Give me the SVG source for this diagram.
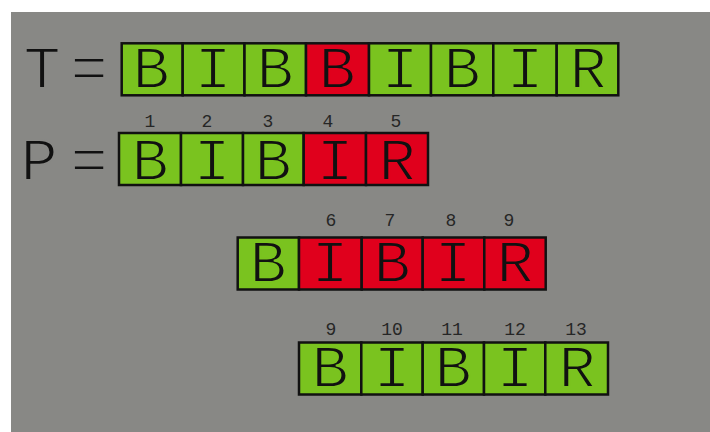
<svg xmlns="http://www.w3.org/2000/svg" width="710" height="432" viewBox="0 0 710 432">
<style>
.g{fill:#7ac31f;stroke:#111;stroke-width:2.5}
.r{fill:#e0001c;stroke:#111;stroke-width:2.5}
.L{font-family:"Liberation Mono","Courier New",monospace;font-size:62px;fill:#111;text-anchor:middle;stroke-width:1.8px}
.Lg{stroke:#7ac31f}
.Lr{stroke:#e0001c}
.Lb{stroke:#888885}
.n{font-family:"Liberation Mono","Courier New",monospace;font-size:18px;fill:#262626;text-anchor:middle}
</style>
<rect x="0" y="0" width="710" height="432" fill="#ffffff"/>
<rect x="11" y="12" width="699" height="420" fill="#888885"/>
<g id="labelT"><text class="L Lb" x="42" y="87.5">T</text><text class="L Lb" x="89" y="87.5">=</text></g>
<g id="labelP"><text class="L Lb" x="39" y="180">P</text><text class="L Lb" x="89" y="180">=</text></g>
<g id="rowT">
<rect class="g" x="121.7" y="43.3" width="61" height="52"/>
<rect class="g" x="182.7" y="43.3" width="61.8" height="52"/>
<rect class="g" x="244.5" y="43.3" width="61.5" height="52"/>
<rect class="r" x="306" y="43.3" width="63" height="52"/>
<rect class="g" x="369" y="43.3" width="62" height="52"/>
<rect class="g" x="431" y="43.3" width="62.3" height="52"/>
<rect class="g" x="493.3" y="43.3" width="63.4" height="52"/>
<rect class="g" x="556.7" y="43.3" width="61.6" height="52"/>
<text class="L Lg" x="151" y="87.5">B</text>
<text class="L Lg" x="213" y="87.5">I</text>
<text class="L Lg" x="275" y="87.5">B</text>
<text class="L Lr" x="337" y="87.5">B</text>
<text class="L Lg" x="400" y="87.5">I</text>
<text class="L Lg" x="462" y="87.5">B</text>
<text class="L Lg" x="525" y="87.5">I</text>
<text class="L Lg" x="588" y="87.5">R</text>
</g>
<g id="rowP">
<rect class="g" x="119" y="133" width="62" height="52"/>
<rect class="g" x="181" y="133" width="62" height="52"/>
<rect class="g" x="243" y="133" width="60.7" height="52"/>
<rect class="r" x="303.7" y="133" width="62.3" height="52"/>
<rect class="r" x="366" y="133" width="62" height="52"/>
<text class="L Lg" x="150" y="180">B</text>
<text class="L Lg" x="212" y="180">I</text>
<text class="L Lg" x="273" y="180">B</text>
<text class="L Lr" x="335" y="180">I</text>
<text class="L Lr" x="397" y="180">R</text>
<text class="n" x="150" y="127">1</text>
<text class="n" x="207" y="127">2</text>
<text class="n" x="268" y="127">3</text>
<text class="n" x="328" y="127">4</text>
<text class="n" x="396" y="127">5</text>
</g>
<g id="row3">
<rect class="g" x="237.7" y="237.5" width="61.3" height="52"/>
<rect class="r" x="299" y="237.5" width="62.7" height="52"/>
<rect class="r" x="361.7" y="237.5" width="61" height="52"/>
<rect class="r" x="422.7" y="237.5" width="61.6" height="52"/>
<rect class="r" x="484.3" y="237.5" width="61.4" height="52"/>
<text class="L Lg" x="268" y="282">B</text>
<text class="L Lr" x="330" y="282">I</text>
<text class="L Lr" x="392" y="282">B</text>
<text class="L Lr" x="453" y="282">I</text>
<text class="L Lr" x="515" y="282">R</text>
<text class="n" x="331" y="226">6</text>
<text class="n" x="390" y="226">7</text>
<text class="n" x="451" y="226">8</text>
<text class="n" x="509" y="226">9</text>
</g>
<g id="row4">
<rect class="g" x="299" y="342.5" width="62.3" height="52"/>
<rect class="g" x="361.3" y="342.5" width="61.4" height="52"/>
<rect class="g" x="422.7" y="342.5" width="61.3" height="52"/>
<rect class="g" x="484" y="342.5" width="61.3" height="52"/>
<rect class="g" x="545.3" y="342.5" width="62.7" height="52"/>
<text class="L Lg" x="330" y="387">B</text>
<text class="L Lg" x="392" y="387">I</text>
<text class="L Lg" x="453" y="387">B</text>
<text class="L Lg" x="515" y="387">I</text>
<text class="L Lg" x="577" y="387">R</text>
<text class="n" x="331" y="335">9</text>
<text class="n" x="392" y="335">10</text>
<text class="n" x="452" y="335">11</text>
<text class="n" x="515" y="335">12</text>
<text class="n" x="576" y="335">13</text>
</g>
<g id="connectors"/>
</svg>
